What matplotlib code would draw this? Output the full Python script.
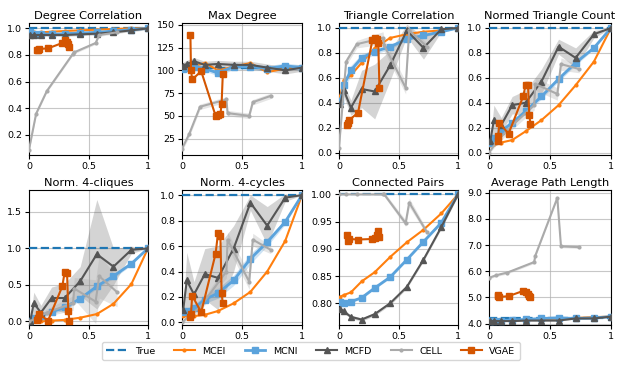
import matplotlib
matplotlib.use("Agg")
import matplotlib.pyplot as plt
import numpy as np

titles = ["Degree Correlation", "Max Degree", "Triangle Correlation", "Normed Triangle Count",
          "Norm. 4-cliques", "Norm. 4-cycles", "Connected Pairs", "Average Path Length"]
methods = ["True", "MCEI", "MCNI", "MCFD", "CELL", "VGAE"]

x_mc = [0.01, 0.04, 0.1, 0.19, 0.3, 0.43, 0.57, 0.71, 0.86, 1.0]
x_cell = [0.0, 0.06, 0.15, 0.37, 0.38, 0.56, 0.59, 0.74]
x_vgae = [0.07, 0.075, 0.085, 0.16, 0.28, 0.30, 0.32, 0.33, 0.34]

true_vals = [1.0, 103, 1.0, 1.0, 1.0, 1.0, 1.0, 4.22]

# Degree Correlation
deg_mcei = [0.97, 0.97, 0.97, 0.975, 0.98, 0.985, 0.99, 0.995, 1.0, 1.0]
deg_mcni = [0.97, 0.96, 0.96, 0.955, 0.96, 0.965, 0.97, 0.98, 0.99, 1.0]
deg_mcfd = [0.95, 0.95, 0.95, 0.95, 0.95, 0.955, 0.96, 0.97, 0.985, 1.0]
deg_cell = [0.09, 0.36, 0.53, 0.81, 0.82, 0.89, 0.95, 0.97]
deg_vgae = [0.84, 0.84, 0.845, 0.85, 0.89, 0.91, 0.90, 0.88, 0.86]

# Max Degree
maxd_mcei = [104, 103, 105, 108, 100, 104, 108, 98, 102, 103]
maxd_mcni = [102, 103, 104, 102, 97, 104, 104, 102, 105, 103]
maxd_mcfd = [105, 107, 110, 106, 107, 106, 106, 103, 100, 103]
maxd_cell = [14, 30, 60, 68, 53, 50, 65, 72]
maxd_vgae = [139, 100, 90, 99, 50, 51, 52, 63, 96]

# Triangle Correlation
tric_mcei = [0.45, 0.58, 0.62, 0.72, 0.84, 0.92, 0.95, 0.97, 0.98, 1.0]
tric_mcni = [0.41, 0.54, 0.66, 0.76, 0.81, 0.85, 0.91, 0.94, 0.97, 1.0]
tric_mcfd = [0.39, 0.50, 0.36, 0.51, 0.49, 0.70, 0.98, 0.84, 0.99, 1.0]
tric_cell = [0.04, 0.73, 0.87, 0.92, 0.86, 0.52, 0.98, 0.85]
tric_vgae = [0.22, 0.24, 0.26, 0.32, 0.90, 0.92, 0.91, 0.88, 0.52]

# Normed Triangle Count
ntri_mcei = [0.06, 0.07, 0.08, 0.10, 0.17, 0.26, 0.38, 0.54, 0.73, 1.0]
ntri_mcni = [0.08, 0.12, 0.17, 0.24, 0.33, 0.45, 0.59, 0.72, 0.84, 1.0]
ntri_mcfd = [0.09, 0.26, 0.22, 0.38, 0.40, 0.57, 0.85, 0.76, 0.95, 1.0]
ntri_cell = [0.0, 0.08, 0.18, 0.38, 0.55, 0.47, 0.71, 0.67]
ntri_vgae = [0.09, 0.13, 0.24, 0.15, 0.45, 0.54, 0.54, 0.30, 0.23]

# Norm. 4-cliques
cliq_mcei = [0.0, 0.0, 0.0, 0.01, 0.02, 0.05, 0.10, 0.24, 0.51, 1.0]
cliq_mcni = [0.0, 0.04, 0.08, 0.13, 0.19, 0.31, 0.48, 0.62, 0.79, 1.0]
cliq_mcfd = [0.0, 0.25, 0.12, 0.32, 0.32, 0.55, 0.92, 0.75, 0.98, 1.0]
cliq_cell = [0.0, 0.04, 0.12, 0.25, 0.45, 0.27, 0.62, 0.40]
cliq_vgae = [0.02, 0.05, 0.10, 0.01, 0.48, 0.68, 0.66, 0.14, 0.01]

# Norm. 4-cycles
cyc_mcei = [0.05, 0.05, 0.05, 0.06, 0.09, 0.15, 0.24, 0.40, 0.64, 1.0]
cyc_mcni = [0.08, 0.09, 0.11, 0.18, 0.23, 0.33, 0.50, 0.63, 0.79, 1.0]
cyc_mcfd = [0.10, 0.33, 0.22, 0.38, 0.35, 0.58, 0.94, 0.76, 0.98, 1.0]
cyc_cell = [0.0, 0.05, 0.12, 0.40, 0.65, 0.32, 0.65, 0.57]
cyc_vgae = [0.04, 0.07, 0.21, 0.08, 0.54, 0.70, 0.68, 0.23, 0.15]

# Connected Pairs
conn_mcei = [0.812, 0.815, 0.82, 0.84, 0.857, 0.885, 0.912, 0.935, 0.965, 1.0]
conn_mcni = [0.803, 0.80, 0.803, 0.81, 0.828, 0.848, 0.88, 0.913, 0.948, 1.0]
conn_mcfd = [0.79, 0.785, 0.775, 0.77, 0.78, 0.80, 0.83, 0.88, 0.94, 1.0]
conn_cell = [1.0, 1.0, 1.0, 1.0, 1.0, 0.947, 0.985, 0.93]
conn_vgae = [0.925, 0.915, 0.918, 0.917, 0.918, 0.92, 0.925, 0.933, 0.921]

# Average Path Length
apl_mcei = [4.1, 4.1, 4.12, 4.12, 4.15, 4.18, 4.2, 4.22, 4.25, 4.27]
apl_mcni = [4.12, 4.12, 4.12, 4.14, 4.16, 4.2, 4.22, 4.2, 4.22, 4.27]
apl_mcfd = [4.1, 4.1, 4.1, 4.1, 4.12, 4.12, 4.12, 4.2, 4.2, 4.27]
apl_cell = [5.75, 5.85, 5.95, 6.35, 6.6, 8.8, 6.95, 6.92]
apl_vgae = [5.05, 5.08, 5.02, 5.05, 5.25, 5.2, 5.15, 5.05, 5.0]

# spreads (half-widths of the shaded bands)
sd_mcni = [
    [0.005] * 10, [3] * 10,
    [0.03, 0.04, 0.04, 0.03, 0.02, 0.02, 0.01, 0.01, 0.01, 0],
    [0.02, 0.02, 0.02, 0.02, 0.02, 0.02, 0.02, 0.02, 0.01, 0],
    [0.01, 0.02, 0.02, 0.03, 0.03, 0.03, 0.03, 0.03, 0.02, 0],
    [0.02, 0.02, 0.03, 0.03, 0.04, 0.04, 0.04, 0.03, 0.02, 0],
    [0.002] * 10, [0.02] * 10,
]
sd_mcfd = [
    [0.01] * 10, [4] * 10,
    [0.03, 0.05, 0.06, 0.15, 0.22, 0.12, 0.05, 0.09, 0.02, 0],
    [0.02, 0.12, 0.06, 0.07, 0.1, 0.1, 0.06, 0.08, 0.03, 0],
    [0.02, 0.15, 0.1, 0.15, 0.2, 0.2, 0.75, 0.25, 0.05, 0],
    [0.02, 0.22, 0.1, 0.2, 0.25, 0.18, 0.06, 0.15, 0.03, 0],
    [0.003] * 10, [0.02] * 10,
]
sd_cell = [
    [0.01] * 8, [3] * 8,
    [0.02, 0.03, 0.03, 0.05, 0.05, 0.05, 0.03, 0.03],
    [0.01, 0.02, 0.03, 0.04, 0.05, 0.05, 0.05, 0.03],
    [0.01, 0.03, 0.05, 0.1, 0.15, 0.3, 0.3, 0.2],
    [0.01, 0.02, 0.03, 0.05, 0.06, 0.06, 0.05, 0.03],
    [0.001, 0.001, 0.001, 0.002, 0.004, 0.006, 0.008, 0.005],
    [0.05] * 8,
]

mcei = [deg_mcei, maxd_mcei, tric_mcei, ntri_mcei, cliq_mcei, cyc_mcei, conn_mcei, apl_mcei]
mcni = [deg_mcni, maxd_mcni, tric_mcni, ntri_mcni, cliq_mcni, cyc_mcni, conn_mcni, apl_mcni]
mcfd = [deg_mcfd, maxd_mcfd, tric_mcfd, ntri_mcfd, cliq_mcfd, cyc_mcfd, conn_mcfd, apl_mcfd]
cell = [deg_cell, maxd_cell, tric_cell, ntri_cell, cliq_cell, cyc_cell, conn_cell, apl_cell]
vgae = [deg_vgae, maxd_vgae, tric_vgae, ntri_vgae, cliq_vgae, cyc_vgae, conn_vgae, apl_vgae]

ylims = [(0.05, 1.04), (7, 152), (-0.02, 1.04), (-0.02, 1.04), (-0.05, 1.8),
         (-0.02, 1.04), (0.76, 1.008), (3.95, 9.1)]
yticks = [[0.2, 0.4, 0.6, 0.8, 1.0], [25, 50, 75, 100, 125, 150],
          [0.0, 0.2, 0.4, 0.6, 0.8, 1.0], [0.0, 0.2, 0.4, 0.6, 0.8, 1.0],
          [0.0, 0.5, 1.0, 1.5], [0.0, 0.2, 0.4, 0.6, 0.8, 1.0],
          [0.80, 0.85, 0.90, 0.95, 1.00], [4.0, 5.0, 6.0, 7.0, 8.0, 9.0]]
yfmts = ["{:.1f}", "{:.0f}", "{:.1f}", "{:.1f}", "{:.1f}", "{:.1f}", "{:.2f}", "{:.1f}"]

c_true = "#1f77b4"
c_mcei = "#ff7f0e"
c_mcni = "#5ba3dc"
c_mcfd = "#555555"
c_cell = "#aaaaaa"
c_vgae = "#d45500"

W, H = 622, 375
fig = plt.figure(figsize=(W / 100, H / 100), dpi=100)
lefts = [29, 182, 339, 489]
widths = [119, 120, 119, 122]
rows = [(23, 155), (190, 325)]

handles = None
for i in range(8):
    r, c = divmod(i, 4)
    top, bot = rows[r]
    ax = fig.add_axes([lefts[c] / W, 1 - bot / H, widths[c] / W, (bot - top) / H])
    ax.grid(True, color="#b0b0b0", lw=0.8, alpha=0.7)
    ax.set_axisbelow(True)

    xm = np.array(x_mc)
    xc = np.array(x_cell)
    ei, ni, fd, ce, vg = (np.array(a, dtype=float) for a in (mcei[i], mcni[i], mcfd[i], cell[i], vgae[i]))
    s_ni, s_fd, s_ce = (np.array(a, dtype=float) for a in (sd_mcni[i], sd_mcfd[i], sd_cell[i]))

    ax.fill_between(xm, ni - s_ni, ni + s_ni, color=c_mcni, alpha=0.3, lw=0)
    ax.fill_between(xm, fd - s_fd, fd + s_fd, color=c_mcfd, alpha=0.25, lw=0)
    ax.fill_between(xc, ce - s_ce, ce + s_ce, color=c_cell, alpha=0.3, lw=0)

    h0 = ax.axhline(true_vals[i], color=c_true, ls="--", lw=1.6, zorder=3, label="True")
    h1, = ax.plot(xm, ei, color=c_mcei, marker=".", ms=4, lw=1.5, label="MCEI", zorder=4)
    h2, = ax.plot(xm, ni, color=c_mcni, marker="s", ms=4.5, lw=2, label="MCNI", zorder=4)
    h3, = ax.plot(xm, fd, color=c_mcfd, marker="^", ms=4.5, lw=1.5, label="MCFD", zorder=4)
    h4, = ax.plot(xc, ce, color=c_cell, marker=".", ms=4, lw=1.5, label="CELL", zorder=4)
    h5, = ax.plot(x_vgae, vg, color=c_vgae, marker="s", ms=4.5, lw=1.5, label="VGAE", zorder=5)
    handles = [h0, h1, h2, h3, h4, h5]

    ax.set_xlim(0, 1)
    ax.set_xticks([0, 0.5, 1])
    ax.set_xticklabels(["0", "0.5", "1"])
    ax.set_ylim(*ylims[i])
    ax.set_yticks(yticks[i])
    ax.set_yticklabels([yfmts[i].format(v) for v in yticks[i]])
    ax.tick_params(labelsize=6.8, length=3, width=0.8, pad=2)
    ax.set_title(titles[i], fontsize=8.2, pad=3)

fig.legend(handles, methods, loc="center", bbox_to_anchor=(311 / W, 1 - 351 / H),
           ncol=6, fontsize=6.8, frameon=True, handlelength=2.2, columnspacing=2.0,
           borderpad=0.5, handletextpad=0.8)

fig.savefig("out.png", dpi=100)
